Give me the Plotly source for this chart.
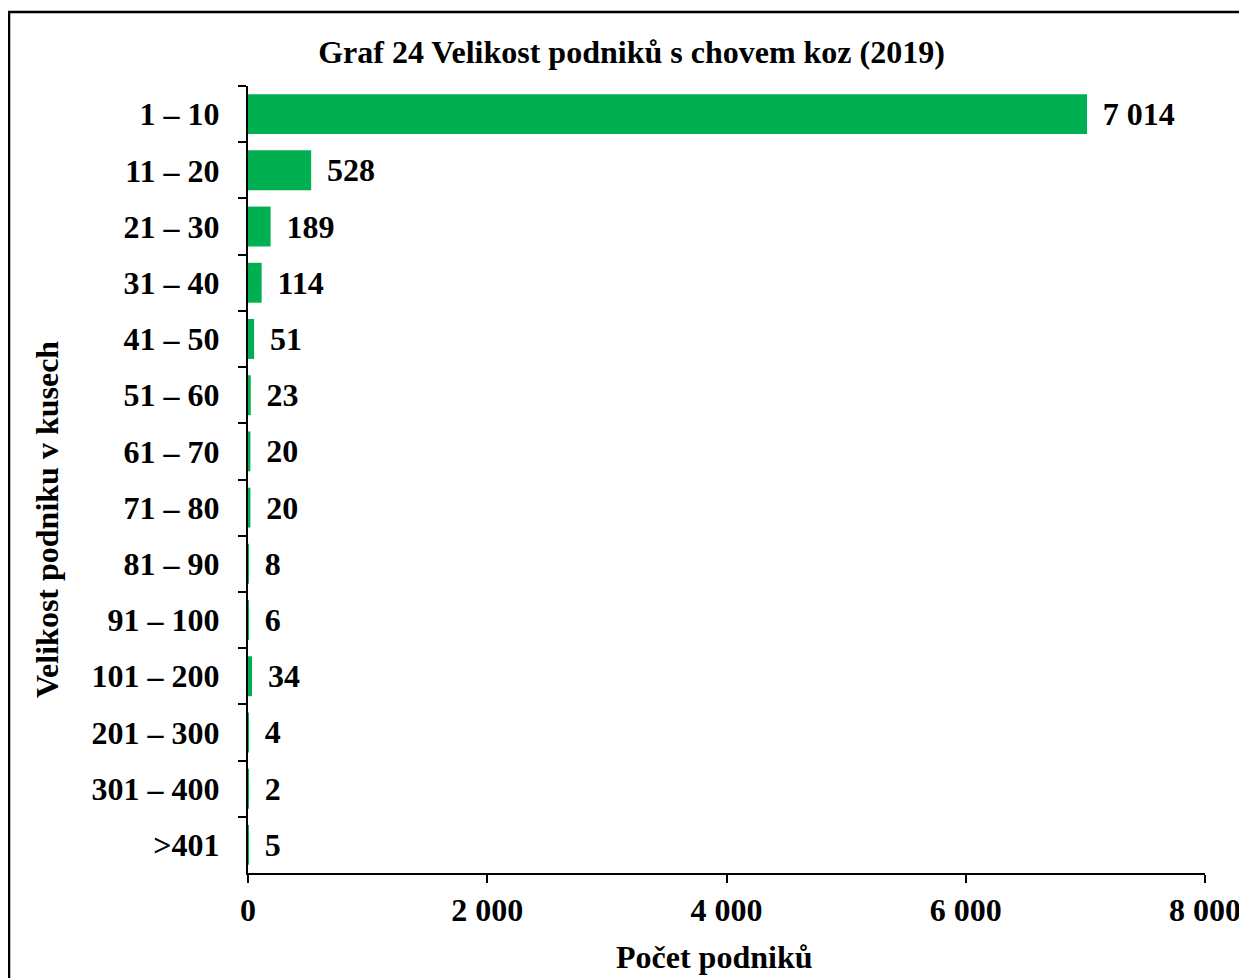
import plotly.graph_objects as go

categories = ["1 – 10", "11 – 20", "21 – 30", "31 – 40", "41 – 50", "51 – 60", "61 – 70",
              "71 – 80", "81 – 90", "91 – 100", "101 – 200", "201 – 300", "301 – 400", ">401"]
counts = [7014, 528, 189, 114, 51, 23, 20, 20, 8, 6, 34, 4, 2, 5]
x_ticks = [0, 2000, 4000, 6000, 8000]

FONT = "Liberation Serif, Times New Roman, serif"
GREEN = "#00B050"
FS = 32

fig = go.Figure(go.Bar(
    y=categories, x=counts, orientation="h",
    marker=dict(color=GREEN, line=dict(width=0)),
    texttemplate="\u2009\u2009%{x:,d}", textposition="outside", cliponaxis=False,
    textfont=dict(family=FONT, size=FS, color="black", weight="bold"),
))

fig.update_layout(
    width=1247, height=978,
    margin=dict(l=240, r=50, t=78, b=113),
    paper_bgcolor="white", plot_bgcolor="white",
    separators=", ",
    showlegend=False,
    bargap=0.29,
    font=dict(family=FONT, size=FS, color="black", weight="bold"),
    title=dict(text="Graf 24 Velikost podniků s chovem koz (2019)", x=0.5, xanchor="center",
               y=0.955, yanchor="middle",
               font=dict(family=FONT, size=FS, color="black", weight="bold")),
)

fig.update_xaxes(
    range=[0, 8000], tickvals=x_ticks, tickformat=",d",
    showgrid=False, zeroline=False,
    showline=True, linecolor="black", linewidth=2,
    ticks="outside", ticklen=8, tickwidth=2, tickcolor="black",
    tickfont=dict(family=FONT, size=FS, color="black", weight="bold"),
)
fig.update_yaxes(
    autorange="reversed", type="category",
    showgrid=False, zeroline=False,
    showline=True, linecolor="black", linewidth=2,
    ticks="outside", ticklen=8, tickwidth=2, tickcolor="black", tickson="boundaries",
    ticklabelstandoff=20,
    tickfont=dict(family=FONT, size=FS, color="black", weight="bold"),
)

fig.add_annotation(text="Velikost podniku v kusech", xref="paper", yref="paper",
                   x=-0.21, y=0.4485, textangle=-90, showarrow=False,
                   xanchor="center", yanchor="middle",
                   font=dict(family=FONT, size=FS, color="black", weight="bold"))
fig.add_annotation(text="Počet podniků", xref="paper", yref="paper",
                   x=0.487, y=-0.107, showarrow=False,
                   xanchor="center", yanchor="middle",
                   font=dict(family=FONT, size=FS, color="black", weight="bold"))

fig.add_shape(type="rect", xref="paper", yref="paper",
              x0=-0.2497, y0=-0.16, x1=1.06, y1=1.094,
              line=dict(color="black", width=2.5), fillcolor="rgba(0,0,0,0)", layer="above")

fig.write_html("out.html")
